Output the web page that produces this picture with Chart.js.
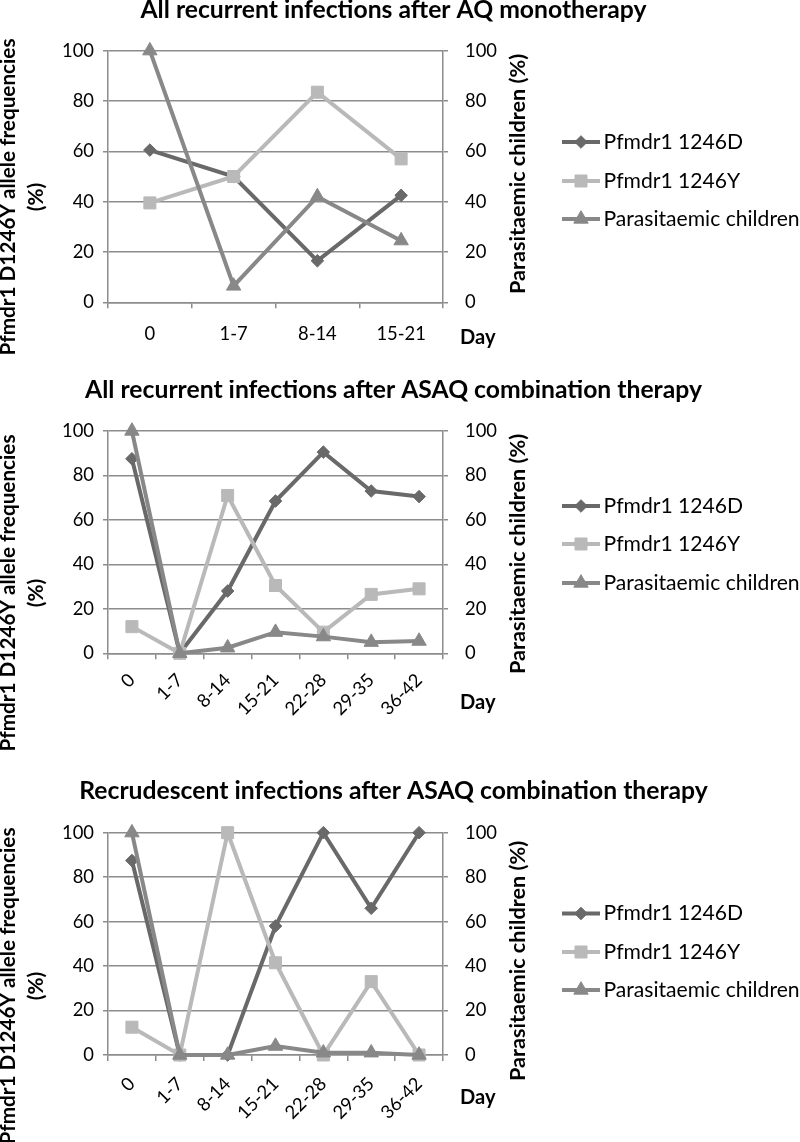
<!DOCTYPE html>
<html>
<head>
<meta charset="utf-8">
<script src="https://cdn.jsdelivr.net/npm/chart.js@4.4.1/dist/chart.umd.min.js"></script>
<style>
html,body{margin:0;padding:0;background:#fff;}
#wrap{position:relative;width:800px;height:1142px;overflow:hidden;}
.box{position:absolute;left:0;width:800px;}
</style>
</head>
<body>
<div id="wrap">
  <div class="box" style="top:0;height:380px"><canvas id="c1"></canvas></div>
  <div class="box" style="top:380px;height:380px"><canvas id="c2"></canvas></div>
  <div class="box" style="top:760px;height:382px"><canvas id="c3"></canvas></div>
</div>
<script>
// ---------- data ----------
const seriesNames = ['Pfmdr1 1246D', 'Pfmdr1 1246Y', 'Parasitaemic children'];
const chartTitles = [
  'All recurrent infections after AQ monotherapy',
  'All recurrent infections after ASAQ combination therapy',
  'Recrudescent infections after ASAQ combination therapy'
];
const daysAQ = ['0', '1-7', '8-14', '15-21'];
const daysASAQ = ['0', '1-7', '8-14', '15-21', '22-28', '29-35', '36-42'];
const yTickValues = [0, 20, 40, 60, 80, 100];
const leftAxisTitle = ['Pfmdr1 D1246Y allele frequencies', '(%)'];
const rightAxisTitle = 'Parasitaemic children (%)';
const xAxisTitle = 'Day';

const aqD = [60.5, 50, 16.5, 42.5];
const aqY = [39.5, 50, 83.5, 57];
const aqPara = [100, 6.5, 42, 24.5];

const asaqD = [87.5, 0, 28, 68.5, 90.5, 73, 70.5];
const asaqY = [12, 0, 71, 30.5, 9.5, 26.5, 29];
const asaqPara = [100, 0, 2.5, 9.5, 7.5, 5, 5.5];

const recD = [87.5, 0, 0, 58, 100, 66, 100];
const recY = [12.5, 0, 100, 41.5, 0, 33, 0];
const recPara = [100, 0, 0, 4, 1, 1, 0];

// ---------- styling ----------
const FAMILY = 'Lato, "Open Sans", sans-serif';
const GRID = '#8c8c8c';
const seriesStyles = [
  { color: '#696969', point: 'rectRot', radius: 6.3, axis: 'y' },
  { color: '#b9b9b9', point: 'rect', radius: 8.5, axis: 'y' },
  { color: '#888888', point: 'triangle', radius: 8.3, axis: 'y2' }
];

const mctx = document.createElement('canvas').getContext('2d');
function fitSize(text, weight, target) {
  mctx.font = weight + ' 100px ' + FAMILY;
  const m = mctx.measureText(text);
  return 100 * target / (m.actualBoundingBoxLeft + m.actualBoundingBoxRight);
}
const tickSize = fitSize('100', 'normal', 30);
const legendSize = fitSize('Parasitaemic children', 'normal', 193);
const rightTitleSize = fitSize(rightAxisTitle, 'bold', 238);
const leftTitleSize = fitSize(leftAxisTitle[0], 'bold', 315);
const titleSize = fitSize(chartTitles[2], 'bold', 627);
const daySize = fitSize(xAxisTitle, 'bold', 34);

function drawMarker(ctx, style, x, y, r, color) {
  ctx.beginPath();
  if (style === 'rectRot') {
    ctx.moveTo(x - r, y); ctx.lineTo(x, y - r); ctx.lineTo(x + r, y); ctx.lineTo(x, y + r);
  } else if (style === 'rect') {
    const s = r * Math.SQRT1_2;
    ctx.rect(x - s, y - s, 2 * s, 2 * s);
  } else {
    for (let k = 0; k < 3; k++) {
      const a = k * 2 * Math.PI / 3;
      const px = x + Math.sin(a) * r, py = y - Math.cos(a) * r;
      if (k) ctx.lineTo(px, py); else ctx.moveTo(px, py);
    }
  }
  ctx.closePath();
  ctx.fillStyle = color; ctx.fill();
  ctx.lineWidth = 1; ctx.strokeStyle = color; ctx.stroke();
}

function rotatedText(ctx, text, x, y, font) {
  ctx.save();
  ctx.font = font;
  ctx.translate(x, y); ctx.rotate(-Math.PI / 2);
  ctx.textAlign = 'center'; ctx.textBaseline = 'alphabetic';
  ctx.fillText(text, 0, 0);
  ctx.restore();
}

const decoPlugin = {
  id: 'deco',
  afterDraw(chart, args, o) {
    const ctx = chart.ctx;
    ctx.save();
    ctx.fillStyle = '#000';
    // chart title
    ctx.font = 'bold ' + titleSize + 'px ' + FAMILY;
    ctx.textAlign = 'center'; ctx.textBaseline = 'alphabetic';
    ctx.fillText(o.title, 393.5, o.titleBase);
    // left axis title (two lines, rotated)
    const lf = 'bold ' + leftTitleSize + 'px ' + FAMILY;
    rotatedText(ctx, leftAxisTitle[0], 15, o.leftCy, lf);
    rotatedText(ctx, leftAxisTitle[1], 43.3, o.leftCy, lf);
    // right axis title
    rotatedText(ctx, rightAxisTitle, 525, o.rightCy, 'bold ' + rightTitleSize + 'px ' + FAMILY);
    // x axis title
    ctx.font = 'bold ' + daySize + 'px ' + FAMILY;
    ctx.textAlign = 'left'; ctx.textBaseline = 'middle';
    ctx.fillText(xAxisTitle, 460, o.dayY);
    // legend
    ctx.font = legendSize + 'px ' + FAMILY;
    chart.data.datasets.forEach((ds, i) => {
      const st = seriesStyles[i];
      const y = o.legendY[i];
      ctx.beginPath();
      ctx.moveTo(562, y); ctx.lineTo(600, y);
      ctx.lineWidth = 4; ctx.strokeStyle = st.color; ctx.lineCap = 'butt';
      ctx.stroke();
      drawMarker(ctx, st.point, 581, y, st.radius, st.color);
      ctx.fillStyle = '#000';
      ctx.textAlign = 'left'; ctx.textBaseline = 'middle';
      ctx.fillText(ds.label, 603.5, y);
    });
    ctx.restore();
  }
};

function buildDatasets(values) {
  return values.map((v, i) => ({
    label: seriesNames[i],
    data: v,
    yAxisID: seriesStyles[i].axis,
    borderColor: seriesStyles[i].color,
    backgroundColor: seriesStyles[i].color,
    borderWidth: 4,
    pointStyle: seriesStyles[i].point,
    pointRadius: seriesStyles[i].radius,
    pointHoverRadius: seriesStyles[i].radius,
    pointBorderWidth: 1,
    pointBackgroundColor: seriesStyles[i].color,
    pointBorderColor: seriesStyles[i].color,
    tension: 0,
    clip: false,
    order: 3 - i
  }));
}

function makeChart(id, labels, values, g) {
  const tickFont = { family: FAMILY, size: tickSize };
  return new Chart(document.getElementById(id), {
    type: 'line',
    data: { labels: labels, datasets: buildDatasets(values) },
    plugins: [decoPlugin],
    options: {
      responsive: true,
      maintainAspectRatio: false,
      animation: false,
      events: [],
      layout: { padding: { left: 0, right: 268, top: g.top, bottom: 0 } },
      plugins: {
        legend: { display: false },
        tooltip: { enabled: false },
        title: { display: false },
        deco: g.deco
      },
      scales: {
        x: {
          type: 'category',
          offset: true,
          grid: { display: true, offset: true, drawOnChartArea: false, drawTicks: true, tickLength: 6, color: GRID, lineWidth: 1.5 },
          border: { display: true, color: GRID, width: 1.5 },
          ticks: { autoSkip: false, maxRotation: g.rot, minRotation: g.rot, padding: g.xPad, color: '#000', font: tickFont },
          afterFit: s => { s.height = g.xH; }
        },
        y: {
          position: 'left',
          min: 0, max: 100,
          afterBuildTicks: s => { s.ticks = yTickValues.map(v => ({ value: v })); },
          grid: { color: GRID, lineWidth: 1.5, tickLength: 5 },
          border: { display: true, color: GRID, width: 1.5 },
          ticks: { padding: 9, color: '#000', font: tickFont },
          afterFit: s => { s.width = 108; }
        },
        y2: {
          position: 'right',
          min: 0, max: 100,
          afterBuildTicks: s => { s.ticks = yTickValues.map(v => ({ value: v })); },
          grid: { drawOnChartArea: false, color: GRID, lineWidth: 1.5, tickLength: 5 },
          border: { display: true, color: GRID, width: 1.5 },
          ticks: { padding: 17, color: '#000', font: tickFont },
          afterFit: s => { s.width = 89; }
        }
      }
    }
  });
}

makeChart('c1', daysAQ, [aqD, aqY, aqPara], {
  top: 50.7, xH: 380 - 302.3, rot: 0, xPad: 15,
  deco: { title: chartTitles[0], titleBase: 18.3, leftCy: 197, rightCy: 174, dayY: 338, legendY: [142, 181, 219] }
});
makeChart('c2', daysASAQ, [asaqD, asaqY, asaqPara], {
  top: 51, xH: 380 - 273.3, rot: 45, xPad: 10,
  deco: { title: chartTitles[1], titleBase: 18.3, leftCy: 213, rightCy: 174, dayY: 323, legendY: [126, 164, 203] }
});
makeChart('c3', daysASAQ, [recD, recY, recPara], {
  top: 72.7, xH: 382 - 295, rot: 45, xPad: 12,
  deco: { title: chartTitles[2], titleBase: 39, leftCy: 226, rightCy: 201, dayY: 338, legendY: [153.5, 192, 230] }
});
</script>
</body>
</html>
